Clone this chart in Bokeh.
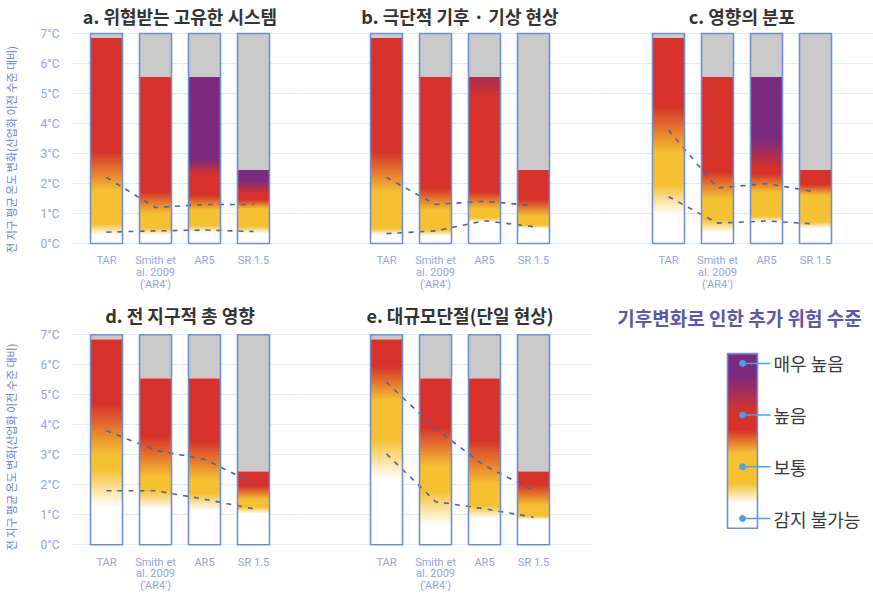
import numpy as np
from bokeh.plotting import figure
from bokeh.layouts import row, column
from bokeh.models import FixedTicker, Range1d
from bokeh.core.properties import value
from bokeh.embed import file_html
from bokeh.resources import INLINE

# ---------------- data ----------------
studies = ["TAR", "Smith et\nal. 2009\n('AR4')", "AR5", "SR 1.5"]
study_pos = [0, 1, 2, 3]
temp_ticks = [0, 1, 2, 3, 4, 5, 6, 7]
temp_labels = ["0°C", "1°C", "2°C", "3°C", "4°C", "5°C", "6°C", "7°C"]
axis_title = "전 지구 평균 온도 변화(산업화 이전 수준 대비)"

ember_top = [6.85, 5.55, 5.55, 2.45]   # assessed range top per study (grey above)
scale_top = 7

a_title = "a. 위협받는 고유한 시스템"
a_white_to_yellow = [(0.28, 0.65), (0.28, 0.5), (0.35, 0.6), (0.33, 0.56)]
a_yellow_to_red = [(1.75, 3.05), (1.0, 1.72), (1.1, 1.6), (1.15, 1.45)]
a_red_to_purple = [None, None, (2.3, 2.8), (1.65, 2.1)]
a_upper = [2.2, 1.2, 1.3, 1.3]
a_lower = [0.38, 0.42, 0.45, 0.4]

b_title = "b. 극단적 기후 · 기상 현상"
b_white_to_yellow = [(0.28, 0.5), (0.25, 0.45), (0.7, 0.85), (0.5, 0.6)]
b_yellow_to_red = [(1.7, 3.05), (1.1, 1.83), (1.15, 1.72), (0.9, 1.45)]
b_red_to_purple = [None, None, (4.8, 6.3), None]
b_upper = [2.2, 1.3, 1.41, 1.26]
b_lower = [0.33, 0.42, 0.76, 0.56]

c_title = "c. 영향의 분포"
c_white_to_yellow = [(0.95, 1.95), (0.35, 0.8), (0.72, 0.9), (0.5, 0.72)]
c_yellow_to_red = [(3.0, 4.55), (1.5, 2.4), (1.7, 2.3), (1.6, 1.95)]
c_red_to_purple = [None, None, (2.5, 3.45), None]
c_upper = [3.78, 1.85, 2.0, 1.72]
c_lower = [1.56, 0.68, 0.75, 0.65]

d_title = "d. 전 지구적 총 영향"
d_white_to_yellow = [(1.26, 2.5), (1.2, 1.8), (1.14, 1.7), (1.03, 1.25)]
d_yellow_to_red = [(3.0, 4.7), (2.25, 3.6), (2.15, 3.45), (1.5, 1.95)]
d_red_to_purple = [None, None, None, None]
d_upper = [3.8, 3.15, 2.85, 2.05]
d_lower = [1.8, 1.8, 1.52, 1.2]

e_title = "e. 대규모단절(단일 현상)"
e_white_to_yellow = [(2.2, 3.5), (0.65, 1.8), (0.87, 1.3), (0.83, 0.95)]
e_yellow_to_red = [(4.8, 5.95), (2.6, 3.9), (2.0, 3.5), (1.3, 2.0)]
e_red_to_purple = [None, None, None, None]
e_upper = [5.42, 3.87, 2.64, 1.81]
e_lower = [3.03, 1.44, 1.2, 0.92]

legend_title = "기후변화로 인한 추가 위험 수준"
risk_levels = ["감지 불가능", "보통", "높음", "매우 높음"]
risk_pos = [0, 1, 2, 3]
legend_span = (-0.19, 3.19)
legend_white_to_yellow = (0.29, 0.68)
legend_yellow_to_red = (1.26, 1.7)
legend_red_to_purple = (2.09, 2.73)

# ---------------- style ----------------
WHITE = np.array([255, 255, 255], float)
YELLOW = np.array([245, 193, 50], float)
RED = np.array([214, 50, 43], float)
PURPLE = np.array([124, 42, 128], float)
GREY = "#c9c9c9"
OUTLINE = "#6f8fd3"
GRID = "#dfeafa"
TICK_COLOR = "#92a5da"
DASH_COLOR = "#4f6398"
KFONT = "Noto Sans CJK KR"
LFONT = "Roboto"
STEP_PX = 49.0
BAR_W = 32.0 / STEP_PX
N_ROWS = 700


def ramp(t, span):
    return np.clip((t - span[0]) / (span[1] - span[0]), 0.0, 1.0)[:, None]


def ember_image(top, bottom, wy, yr, rp):
    t = bottom + (top - bottom) * (np.arange(N_ROWS) + 0.5) / N_ROWS
    c = WHITE + ramp(t, wy) * (YELLOW - WHITE)
    c = c + ramp(t, yr) * (RED - YELLOW)
    if rp is not None:
        c = c + ramp(t, rp) * (PURPLE - RED)
    rgba = np.zeros((N_ROWS, 1, 4), dtype=np.uint8)
    rgba[:, 0, :3] = np.clip(np.round(c), 0, 255).astype(np.uint8)
    rgba[:, 0, 3] = 255
    return rgba.view(dtype=np.uint32).reshape((N_ROWS, 1))


def make_panel(title, wy, yr, rp, upper, lower, first_px, frame_w, height,
               y_top, with_axis, title_y):
    left_border = 72 if with_axis else 0
    x0 = -first_px / STEP_PX
    y_bottom = y_top - height / 30.0
    p = figure(width=int(frame_w + left_border), height=height,
               x_range=Range1d(x0, x0 + frame_w / STEP_PX),
               y_range=Range1d(y_bottom, y_top),
               x_axis_location=None,
               y_axis_location="left" if with_axis else None,
               toolbar_location=None, output_backend="svg",
               min_border_left=left_border, min_border_right=0,
               min_border_top=0, min_border_bottom=0)
    p.outline_line_color = None
    p.xgrid.visible = False
    for g in p.ygrid:
        g.ticker = FixedTicker(ticks=temp_ticks)
        g.grid_line_color = GRID
        g.grid_line_width = 1
    if with_axis:
        ax = p.yaxis[0]
        ax.ticker = FixedTicker(ticks=temp_ticks)
        ax.major_label_overrides = {k: v for k, v in zip(temp_ticks, temp_labels)}
        ax.axis_line_color = None
        ax.major_tick_line_color = None
        ax.minor_tick_line_color = None
        ax.major_label_standoff = 7
        ax.major_label_text_font = LFONT
        ax.major_label_text_font_size = "12px"
        ax.major_label_text_color = TICK_COLOR
        ax.axis_label = axis_title
        ax.axis_label_standoff = 18
        ax.axis_label_text_font = KFONT
        ax.axis_label_text_font_size = "11px"
        ax.axis_label_text_font_style = "normal"
        ax.axis_label_text_color = "#6a86d8"

    lefts = [x - BAR_W / 2 for x in study_pos]
    rights = [x + BAR_W / 2 for x in study_pos]
    imgs = [ember_image(t, 0.0, wy[i], yr[i], rp[i]) for i, t in enumerate(ember_top)]
    p.image_rgba(image=imgs, x=lefts, y=[0] * 4, dw=[BAR_W] * 4, dh=ember_top)
    p.quad(left=lefts, right=rights, bottom=ember_top, top=[scale_top] * 4,
           fill_color=GREY, line_color=None)
    p.line(study_pos, upper, line_color=DASH_COLOR, line_width=1.6, line_dash="5 6")
    p.line(study_pos, lower, line_color=DASH_COLOR, line_width=1.6, line_dash="5 6")
    p.quad(left=lefts, right=rights, bottom=[0] * 4, top=[scale_top] * 4,
           fill_color=None, line_color=OUTLINE, line_width=1.6)
    p.text(x=study_pos, y=[-0.36] * 4, text=studies, text_align="center",
           text_baseline="top", text_font=value(LFONT), text_font_size="11px",
           text_color=TICK_COLOR, text_line_height=0.9)
    p.text(x=[sum(study_pos) / 4], y=[title_y], text=[title], text_align="center",
           text_baseline="middle", text_font=value(KFONT), text_font_size="18px",
           text_font_style="bold", text_color="#333333")
    return p


TOP_H, BOT_H = 298, 297
top_y = 7 + 33 / 30.0
bot_y = 7 + (334.3 - TOP_H) / 30.0

pa = make_panel(a_title, a_white_to_yellow, a_yellow_to_red, a_red_to_purple,
                a_upper, a_lower, 34, 226, TOP_H, top_y, True, top_y - 15 / 30.0)
pb = make_panel(b_title, b_white_to_yellow, b_yellow_to_red, b_red_to_purple,
                b_upper, b_lower, 88, 294, TOP_H, top_y, False, top_y - 15 / 30.0)
pc = make_panel(c_title, c_white_to_yellow, c_yellow_to_red, c_red_to_purple,
                c_upper, c_lower, 76, 281, TOP_H, top_y, False, top_y - 15 / 30.0)
pd = make_panel(d_title, d_white_to_yellow, d_yellow_to_red, d_red_to_purple,
                d_upper, d_lower, 34, 226, BOT_H, bot_y, True, bot_y - 16 / 30.0)
pe = make_panel(e_title, e_white_to_yellow, e_yellow_to_red, e_red_to_purple,
                e_upper, e_lower, 88, 294, BOT_H, bot_y, False, bot_y - 16 / 30.0)

# ---------------- legend panel ----------------
LEG_STEP = 51.7
leg_top = 0 + (518 - TOP_H) / LEG_STEP
pl = figure(width=281, height=BOT_H, x_range=Range1d(0, 281),
            y_range=Range1d(leg_top - BOT_H / LEG_STEP, leg_top),
            x_axis_location=None, y_axis_location=None,
            toolbar_location=None, output_backend="svg",
            min_border_left=0, min_border_right=0, min_border_top=0, min_border_bottom=0)
pl.outline_line_color = None
pl.grid.visible = False
leg_x, leg_w = 135, 30
limg = ember_image(legend_span[1], legend_span[0], legend_white_to_yellow,
                   legend_yellow_to_red, legend_red_to_purple)
pl.image_rgba(image=[limg], x=[leg_x], y=[legend_span[0]], dw=[leg_w],
              dh=[legend_span[1] - legend_span[0]])
pl.quad(left=[leg_x], right=[leg_x + leg_w], bottom=[legend_span[0]], top=[legend_span[1]],
        fill_color=None, line_color=OUTLINE, line_width=1.6)
cx = leg_x + leg_w / 2
pl.segment(x0=[cx] * 4, x1=[cx + 28] * 4, y0=risk_pos, y1=risk_pos,
           line_color="#4aa3e0", line_width=1.5)
pl.scatter(x=[cx] * 4, y=risk_pos, size=6, color="#4aa3e0")
pl.text(x=[cx + 31] * 4, y=risk_pos, text=risk_levels, text_align="left",
        text_baseline="middle", text_font=value(KFONT), text_font_size="18px",
        text_color="#3a3a3a")
pl.text(x=[147], y=[(518 - 317) / LEG_STEP], text=[legend_title], text_align="center",
        text_baseline="middle", text_font=value(KFONT), text_font_size="19px",
        text_font_style="bold", text_color="#5b58a8")

layout = column(row(pa, pb, pc), row(pd, pe, pl))
open("out.html", "w").write(file_html(layout, INLINE))
